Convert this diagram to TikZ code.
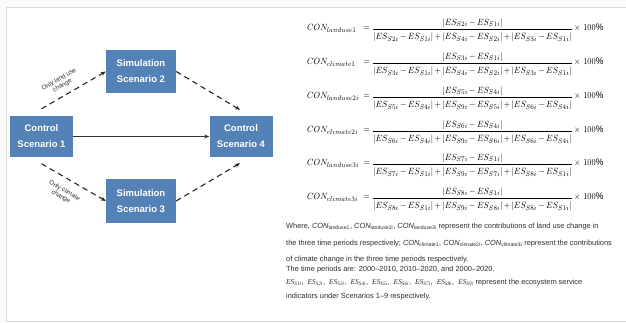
\documentclass[tikz,border=0pt]{standalone}
\usepackage{fontspec}
\setmainfont{Liberation Sans}
\newfontfamily\esfont{Liberation Serif}
\usepackage{amsmath}
\usepackage{graphicx}
\usetikzlibrary{arrows.meta,calc}
\definecolor{boxblue}{HTML}{5482B6}
\definecolor{framegray}{HTML}{DADADA}
\definecolor{bodytext}{HTML}{2E2E2E}
\tikzset{
  scen/.style={rectangle, fill=boxblue, text=white, minimum width=63pt, minimum height=41pt,
    inner sep=0pt, align=center, font=\fontsize{9.5}{16}\selectfont\bfseries},
  solidarrow/.style={line width=0.9pt, draw=black!80, -{Stealth[length=5pt,width=4pt]}},
  dasharrow/.style={line width=1.1pt, draw=black!85, dash pattern=on 5.5pt off 4pt,
    -{Stealth[length=5pt,width=4pt]}},
  edgelabel/.style={font=\fontsize{6.3}{7}\selectfont, text=bodytext, align=center, inner sep=1pt},
  eqrow/.style={anchor=base west, inner sep=0pt, font=\fontsize{9.5}{12}\selectfont},
  noteline/.style={anchor=base west, inner sep=0pt, text=bodytext, font=\fontsize{7.4}{9}\selectfont},
}
\newcommand{\conname}[1]{\makebox[62.5pt][l]{$CON_{#1}$}}
\newcommand{\tcon}[1]{\textit{CON}\textsubscript{#1}}
\newcommand{\esn}[1]{{\esfont\itshape ES\textsubscript{S#1i}}}
% fraction with a little more room above and below the bar
\newcommand{\confrac}[2]{\dfrac{\rule[-1.3pt]{0pt}{1.3pt}#1}{\rule{0pt}{9.5pt}#2}}
% one formula row, set slightly condensed
\newcommand{\conrow}[3]{\scalebox{0.9}[1]{\medmuskip=3mu plus 1mu minus 1mu
  \conname{#1}$=\confrac{#2}{#3}\times\,100\%$}}
\begin{document}
\begin{tikzpicture}[x=1pt,y=-1pt]
  \useasboundingbox (0,0) rectangle (626,323);
  \fill[white!97!black!50] (0,0) rectangle (626,323);
  \fill[white] (6,7) rectangle (630,321.5);
  \draw[framegray, line width=0.8pt] (630,7) -- (6,7) -- (6,321.5) -- (630,321.5);

  % scenario boxes
  \node[scen] (c1) at (41.5,136.5) {Control\\Scenario 1};
  \node[scen, minimum width=70pt, minimum height=43pt] (s2) at (141,71.5) {Simulation\\Scenario 2};
  \node[scen, minimum width=70pt, minimum height=43pt] (s3) at (141,201) {Simulation\\Scenario 3};
  \node[scen] (c4) at (241,136.5) {Control\\Scenario 4};

  % free ends of the dashed connectors
  \coordinate (c1n) at ($(c1.north)+(0,-7)$);
  \coordinate (c1s) at ($(c1.south)+(0,6.5)$);
  \coordinate (c4n) at ($(c4.north)+(-1,-6)$);
  \coordinate (c4s) at ($(c4.south)+(-1,6)$);

  \draw[solidarrow] (c1.east) -- (c4.west);
  \draw[dasharrow] (c1n) -- node[edgelabel, sloped, above=5pt, pos=0.4] {Only land use\\change} (s2.west);
  \draw[dasharrow] (c1s) -- node[edgelabel, sloped, below=7.5pt, pos=0.45] {Only climate\\change} (s3.west);
  \draw[dasharrow] (s2.east) -- (c4n);
  \draw[dasharrow] (s3.east) -- (c4s);

  % contribution formulas
  \node[eqrow] (e1) at (307,31) {\conrow{landuse1}{|ES_{S2i}-ES_{S1i}|}{|ES_{S2i}-ES_{S1i}|+|ES_{S4i}-ES_{S2i}|+|ES_{S3i}-ES_{S1i}|}};
  \node[eqrow] (e2) at (307,65) {\conrow{climate1}{|ES_{S3i}-ES_{S1i}|}{|ES_{S3i}-ES_{S1i}|+|ES_{S4i}-ES_{S2i}|+|ES_{S3i}-ES_{S1i}|}};
  \node[eqrow] (e3) at (307,99) {\conrow{landuse2i}{|ES_{S5i}-ES_{S4i}|}{|ES_{S5i}-ES_{S4i}|+|ES_{S9i}-ES_{S5i}|+|ES_{S6i}-ES_{S4i}|}};
  \node[eqrow] (e4) at (307,133) {\conrow{climate2i}{|ES_{S6i}-ES_{S4i}|}{|ES_{S6i}-ES_{S4i}|+|ES_{S9i}-ES_{S6i}|+|ES_{S6i}-ES_{S4i}|}};
  \node[eqrow] (e5) at (307,166) {\conrow{landuse3i}{|ES_{S7i}-ES_{S1i}|}{|ES_{S7i}-ES_{S1i}|+|ES_{S9i}-ES_{S7i}|+|ES_{S8i}-ES_{S1i}|}};
  \node[eqrow] (e6) at (307,200) {\conrow{climate3i}{|ES_{S8i}-ES_{S1i}|}{|ES_{S8i}-ES_{S1i}|+|ES_{S9i}-ES_{S8i}|+|ES_{S8i}-ES_{S1i}|}};

  % explanatory notes
  \node[noteline] (n1) at (286,228) {Where, \tcon{landuse1}, \tcon{landuse2i}, \tcon{landuse3i} represent the contributions of land use change in};
  \node[noteline] (n2) at (286,245) {the three time periods respectively; \tcon{climate1}, \tcon{climate2i}, \tcon{climate3i} represent the contributions};
  \node[noteline] (n3) at (286,261) {of climate change in the three time periods respectively.};
  \node[noteline] (n4) at (286,271.5) {The time periods are: 2000–2010, 2010–2020, and 2000–2020.};
  \node[noteline] (n5) at (286,284) {\esn{1},\ \ \esn{2},\ \ \esn{3},\ \ \esn{4},\ \ \esn{5},\ \ \esn{6},\ \ \esn{7},\ \ \esn{8},\ \ \esn{9} represent the ecosystem service};
  \node[noteline] (n6) at (286,298) {indicators under Scenarios 1–9 respectively.};
\end{tikzpicture}
\end{document}
